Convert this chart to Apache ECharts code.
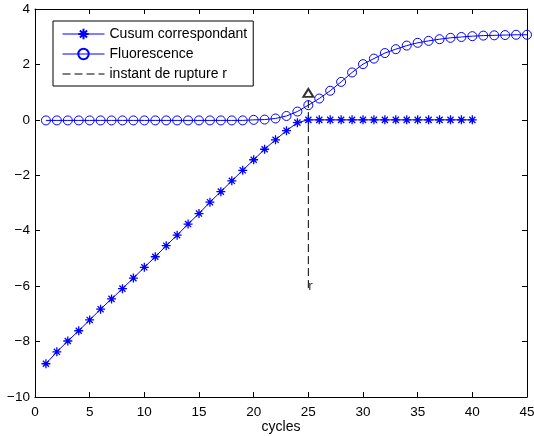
<!DOCTYPE html>
<html>
<head>
<meta charset="utf-8">
<script src="https://cdn.jsdelivr.net/npm/echarts@6/dist/echarts.min.js"></script>
<style>
html,body{margin:0;padding:0;background:#fff;}
#chart{width:534px;height:436px;}
</style>
</head>
<body>
<div id="chart"></div>
<script>
// ---- data ----
var cusumCycles = [1,2,3,4,5,6,7,8,9,10,11,12,13,14,15,16,17,18,19,20,21,22,23,24,25,26,27,28,29,30,31,32,33,34,35,36,37,38,39,40];
var cusumValues = [-8.80,-8.37,-7.98,-7.61,-7.22,-6.83,-6.46,-6.09,-5.71,-5.32,-4.94,-4.54,-4.16,-3.76,-3.38,-2.97,-2.59,-2.20,-1.82,-1.44,-1.06,-0.72,-0.39,-0.10,0,0,0,0,0,0,0,0,0,0,0,0,0,0,0,0];
var fluoCycles = [1,2,3,4,5,6,7,8,9,10,11,12,13,14,15,16,17,18,19,20,21,22,23,24,25,26,27,28,29,30,31,32,33,34,35,36,37,38,39,40,41,42,43,44,45];
var fluoValues = [-0.02,-0.02,-0.02,-0.02,-0.02,-0.02,-0.02,-0.02,-0.02,-0.02,-0.02,-0.02,-0.02,-0.02,-0.02,-0.02,-0.02,-0.02,-0.02,0.00,0.01,0.05,0.14,0.30,0.53,0.77,1.05,1.37,1.71,2.01,2.21,2.41,2.55,2.68,2.78,2.85,2.91,2.96,2.99,3.02,3.04,3.05,3.06,3.07,3.07];
var ruptureCycle = 25;
var ruptureLow = -6.07;
var ruptureHigh = 0.87;
var arrowTip = 0.97;
var ruptureLabelY = -6.0;
var xTicks = {min: 0, max: 45, step: 5};
var yTicks = {min: -10, max: 4, step: 2};
var legendNames = ['Cusum correspondant', 'Fluorescence', 'instant de rupture r'];
var xName = 'cycles';

// ---- chart ----
var FONT = '"Liberation Sans", Arial, Helvetica, sans-serif';
var BLUE = '#0000ff';
var star = 'path://M5,0L5,10M0,5L10,5M1.6,1.6L8.4,8.4M1.6,8.4L8.4,1.6';
var ring = 'path://M10,5A5,5,0,1,1,0,5A5,5,0,1,1,10,5Z';

function pairs(xs, ys) { return xs.map(function (x, i) { return [x, ys[i]]; }); }
function minus(v) { return String(v).replace('-', '\u2212'); }

var axisLineStyle = {show: true, onZero: false, lineStyle: {color: '#000', width: 1}};
var tickStyle = {show: true, inside: true, length: 5, lineStyle: {color: '#000', width: 1}};
var tickFont = {color: '#000', fontSize: 13.5, fontFamily: FONT};

var chart = echarts.init(document.getElementById('chart'), null, {renderer: 'canvas'});
chart.setOption({
  animation: false,
  backgroundColor: '#fff',
  textStyle: {fontFamily: FONT},
  grid: {left: 35, right: 7, top: 9, bottom: 39, containLabel: false, outerBoundsMode: 'none'},
  legend: {
    orient: 'vertical', left: 53, top: 21,
    padding: [6, 6, 5, 9], itemGap: 6, itemWidth: 42, itemHeight: 13,
    borderColor: '#000', borderWidth: 1, backgroundColor: '#fff',
    lineStyle: {width: 1},
    textStyle: {fontFamily: FONT, fontSize: 14, color: '#000'},
    data: [
      {name: legendNames[0]},
      {name: legendNames[1]},
      {name: legendNames[2], itemStyle: {opacity: 0}}
    ]
  },
  xAxis: [{
    type: 'value', min: xTicks.min, max: xTicks.max, interval: xTicks.step,
    position: 'bottom', splitLine: {show: false},
    axisLine: axisLineStyle, axisTick: tickStyle,
    axisLabel: Object.assign({margin: 8, formatter: minus}, tickFont),
    name: xName, nameLocation: 'middle', nameGap: 23, nameMoveOverlap: false,
    nameTextStyle: {color: '#000', fontSize: 14, fontFamily: FONT}
  }, {
    type: 'value', min: xTicks.min, max: xTicks.max, interval: xTicks.step,
    position: 'top', splitLine: {show: false},
    axisLine: axisLineStyle, axisTick: tickStyle, axisLabel: {show: false}
  }],
  yAxis: [{
    type: 'value', min: yTicks.min, max: yTicks.max, interval: yTicks.step,
    position: 'left', splitLine: {show: false},
    axisLine: axisLineStyle, axisTick: tickStyle,
    axisLabel: Object.assign({margin: 5, formatter: minus}, tickFont)
  }, {
    type: 'value', min: yTicks.min, max: yTicks.max, interval: yTicks.step,
    position: 'right', splitLine: {show: false},
    axisLine: axisLineStyle, axisTick: tickStyle, axisLabel: {show: false}
  }],
  series: [{
    name: legendNames[0], type: 'line',
    data: pairs(cusumCycles, cusumValues),
    symbol: star, symbolSize: 9, showAllSymbol: true,
    lineStyle: {color: BLUE, width: 1},
    itemStyle: {color: BLUE, borderColor: BLUE, borderWidth: 1.3},
    z: 3
  }, {
    name: legendNames[1], type: 'line',
    data: pairs(fluoCycles, fluoValues),
    symbol: ring, symbolSize: 9, showAllSymbol: true,
    lineStyle: {color: BLUE, width: 1},
    itemStyle: {color: 'rgba(0,0,0,0)', borderColor: BLUE, borderWidth: 1},
    z: 3
  }, {
    name: legendNames[2], type: 'line',
    data: [[ruptureCycle, ruptureLow], [ruptureCycle, ruptureHigh]],
    symbol: 'none',
    lineStyle: {color: '#000', width: 1, type: [8, 4]},
    itemStyle: {color: '#000'},
    z: 2
  }, {
    type: 'scatter',
    data: [[ruptureCycle, arrowTip]],
    symbol: 'emptyTriangle', symbolSize: [10, 8],
    itemStyle: {color: '#000', borderColor: '#000', borderWidth: 1},
    z: 2
  }, {
    type: 'scatter',
    data: [[ruptureCycle, ruptureLabelY]],
    symbolSize: 0,
    itemStyle: {color: 'rgba(0,0,0,0)'},
    label: {show: true, position: 'right', distance: 0, formatter: 'r',
            color: '#000', fontSize: 13.5, fontFamily: FONT},
    z: 2
  }]
});
</script>
</body>
</html>
